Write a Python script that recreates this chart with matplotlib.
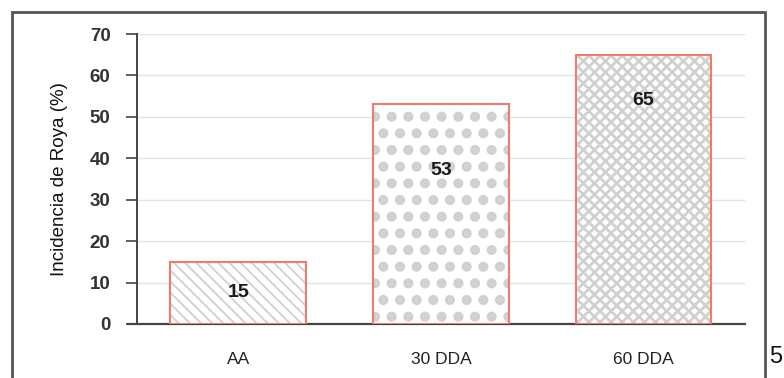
import matplotlib.pyplot as plt
from matplotlib.patches import Rectangle

categories = ["AA", "30 DDA", "60 DDA"]
values = [15, 53, 65]
yticks = [0, 10, 20, 30, 40, 50, 60, 70]

hatches = ["\\\\\\", ".", "xxx"]
hatch_lw = [1.3, 4.8, 2.0]
label_y = [7.5, 37, 54]

plt.rcParams['font.family'] = ['Liberation Sans', 'DejaVu Sans']

fig = plt.figure(figsize=(7.84, 3.78), dpi=100)
ax = fig.add_axes([0.1747, 0.1429, 0.7753, 0.7671])

x = list(range(len(categories)))
# gray hatch fill per bar (own hatch width each), then the red outline on top
for i in x:
    with plt.rc_context({'hatch.linewidth': hatch_lw[i]}):
        ax.bar(x[i], values[i], width=0.67, color='white', edgecolor='#d0d0d0',
               linewidth=0, hatch=hatches[i], zorder=3)
ax.bar(x, values, width=0.67, fill=False, edgecolor='#ee7b6c',
       linewidth=1.5, zorder=4)

for i, (v, ly) in enumerate(zip(values, label_y)):
    ax.text(i, ly, str(v), ha='center', va='center', fontsize=14,
            fontweight='bold', color='#1a1a1a', zorder=5)

ax.set_xlim(-0.5, 2.5)
ax.set_ylim(0, 70)
ax.set_yticks(yticks)
ax.set_xticks(x)
ax.set_xticklabels(categories)
ax.tick_params(axis='y', length=8, width=1.2, color='#444444',
               labelsize=13.5, labelcolor='#333333', pad=11)
ax.tick_params(axis='x', length=0, labelsize=12.5, labelcolor='#222222', pad=20)
for lab in ax.get_yticklabels():
    lab.set_fontweight('bold')

ax.grid(axis='y', color='#e2e2e2', linewidth=1, zorder=0)
ax.spines['top'].set_visible(False)
ax.spines['right'].set_visible(False)
ax.spines['left'].set_color('#444444')
ax.spines['left'].set_linewidth(1.4)
ax.spines['bottom'].set_color('#444444')
ax.spines['bottom'].set_linewidth(1.6)
ax.spines['bottom'].set_bounds(-0.545, 2.5)

ax.set_ylabel("Incidencia de Roya (%)", fontsize=13.5, color='#111111',
              labelpad=16)

# frame around the figure panel
fig.patches.append(Rectangle((12 / 784, -0.05), 753 / 784, 1.05 - 12 / 378,
                             transform=fig.transFigure, fill=False,
                             edgecolor='#555555', linewidth=2))
fig.text(769 / 784, 1 - 357 / 378, "5", fontsize=17, color='#111111',
         va='center', ha='left')

fig.savefig("out.png", dpi=100)
